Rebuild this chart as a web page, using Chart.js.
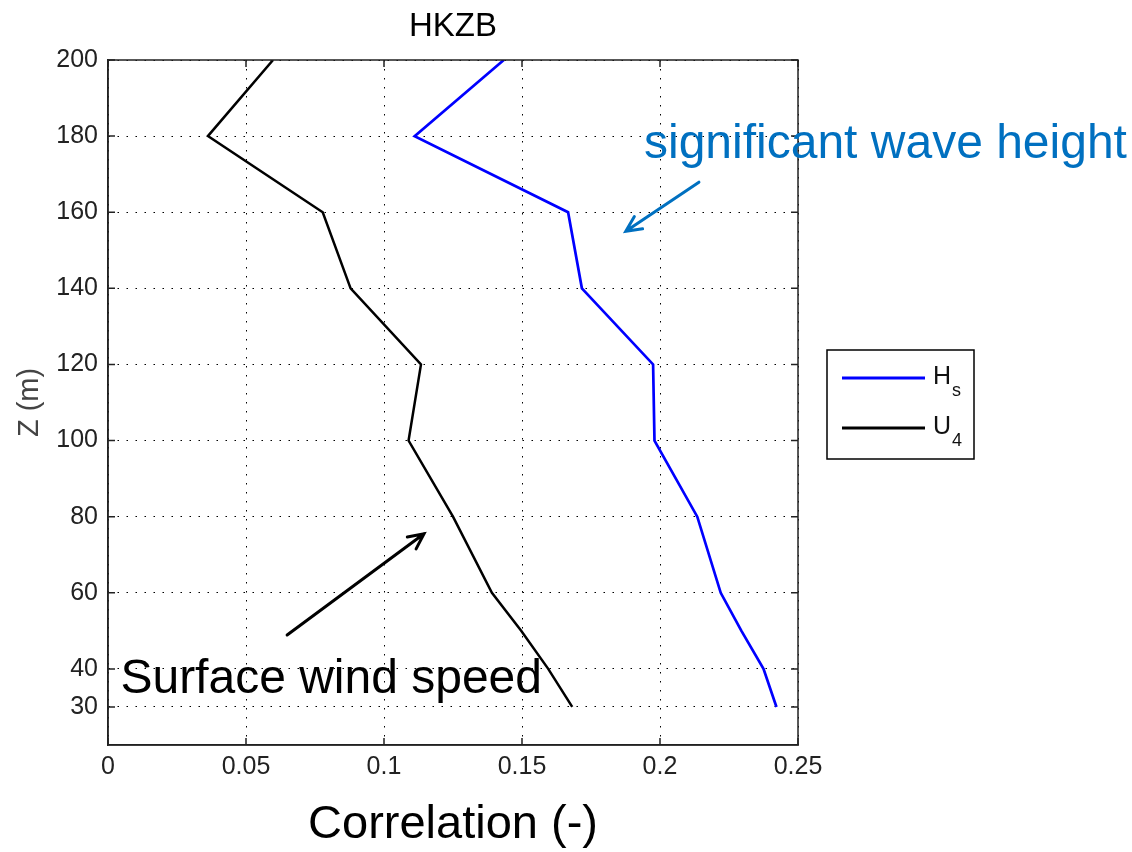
<!DOCTYPE html>
<html>
<head>
<meta charset="utf-8">
<script src="https://cdn.jsdelivr.net/npm/chart.js@4.4.0/dist/chart.umd.min.js"></script>
<style>
  html, body { margin: 0; padding: 0; background: #fff; }
  #wrap { width: 1132px; height: 852px; }
</style>
</head>
<body>
<div id="wrap"><canvas id="profileChart" width="1132" height="852"></canvas></div>
<script>
// Висоти (м) і кореляції
const heights = [200, 180, 160, 140, 120, 100, 80, 60, 50, 40, 30];
const hsCorr = [0.1434, 0.1111, 0.1667, 0.1717, 0.1975, 0.1980, 0.2135, 0.2220, 0.2295, 0.2375, 0.2422];
const u4Corr = [0.0598, 0.0362, 0.0778, 0.0879, 0.1134, 0.1089, 0.1250, 0.1391, 0.1497, 0.1595, 0.1682];

const seriesNames = ['H', 'U'];
const seriesSubs = ['s', '4'];

const xTicks = [0, 0.05, 0.1, 0.15, 0.2, 0.25];
const xTickLabels = ['0', '0.05', '0.1', '0.15', '0.2', '0.25'];
const yTicks = [30, 40, 60, 80, 100, 120, 140, 160, 180, 200];
const yTickLabels = ['30', '40', '60', '80', '100', '120', '140', '160', '180', '200'];

const chartTitle = 'HKZB';
const FONT = "'Liberation Sans', Arial, sans-serif";

// Підписи-стрілки (у координатах даних)
const notes = [
  { text: 'significant wave height', color: '#0070C0', x: 0.1942, y: 174.2,
    arrow: { x1: 0.2141, y1: 167.9, x2: 0.1876, y2: 155.0 } },
  { text: 'Surface wind speed', color: '#000000', x: 0.0045, y: 33.7,
    arrow: { x1: 0.0649, y1: 48.9, x2: 0.1145, y2: 75.5 } }
];

function drawArrow(ctx, x1, y1, x2, y2, head) {
  const ang = Math.atan2(y2 - y1, x2 - x1);
  ctx.beginPath();
  ctx.moveTo(x1, y1);
  ctx.lineTo(x2, y2);
  ctx.moveTo(x2 - head * Math.cos(ang - 0.45), y2 - head * Math.sin(ang - 0.45));
  ctx.lineTo(x2, y2);
  ctx.lineTo(x2 - head * Math.cos(ang + 0.45), y2 - head * Math.sin(ang + 0.45));
  ctx.stroke();
}

// Рамка, внутрішні засічки, заголовок, легенда і підписи
const matlabFrame = {
  id: 'matlabFrame',
  afterDraw(chart) {
    const { ctx, chartArea: a, scales: { x, y } } = chart;
    ctx.save();
    ctx.strokeStyle = '#222';
    ctx.lineWidth = 1.5;
    ctx.strokeRect(a.left, a.top, a.right - a.left, a.bottom - a.top);
    ctx.beginPath();
    x.ticks.forEach(t => {
      const px = x.getPixelForValue(t.value);
      ctx.moveTo(px, a.bottom); ctx.lineTo(px, a.bottom - 7);
      ctx.moveTo(px, a.top); ctx.lineTo(px, a.top + 7);
    });
    y.ticks.forEach(t => {
      const py = y.getPixelForValue(t.value);
      ctx.moveTo(a.left, py); ctx.lineTo(a.left + 7, py);
      ctx.moveTo(a.right, py); ctx.lineTo(a.right - 7, py);
    });
    ctx.stroke();

    // Заголовок над областю графіка
    ctx.fillStyle = '#000';
    ctx.font = `33px ${FONT}`;
    ctx.textAlign = 'center';
    ctx.textBaseline = 'alphabetic';
    ctx.fillText(chartTitle, (a.left + a.right) / 2, a.top - 24);

    // Легенда
    const lx = a.right + 29, ly = 350;
    ctx.fillStyle = '#fff';
    ctx.fillRect(lx, ly, 147, 109);
    ctx.strokeStyle = '#000';
    ctx.lineWidth = 1.5;
    ctx.strokeRect(lx, ly, 147, 109);
    chart.data.datasets.forEach((ds, i) => {
      const iy = ly + 28 + i * 50;
      ctx.strokeStyle = ds.borderColor;
      ctx.lineWidth = 3;
      ctx.beginPath();
      ctx.moveTo(lx + 15, iy);
      ctx.lineTo(lx + 98, iy);
      ctx.stroke();
      ctx.fillStyle = '#111';
      ctx.textBaseline = 'alphabetic';
      ctx.textAlign = 'left';
      ctx.font = `25px ${FONT}`;
      ctx.fillText(seriesNames[i], lx + 106, iy + 6);
      const w = ctx.measureText(seriesNames[i]).width;
      ctx.font = `18px ${FONT}`;
      ctx.fillText(seriesSubs[i], lx + 107 + w, iy + 18);
    });

    // Анотації
    notes.forEach(n => {
      ctx.fillStyle = n.color;
      ctx.strokeStyle = n.color;
      ctx.font = `48px ${FONT}`;
      ctx.textAlign = 'left';
      ctx.textBaseline = 'alphabetic';
      ctx.fillText(n.text, x.getPixelForValue(n.x), y.getPixelForValue(n.y));
      ctx.lineWidth = 3;
      ctx.lineCap = 'round';
      drawArrow(ctx,
        x.getPixelForValue(n.arrow.x1), y.getPixelForValue(n.arrow.y1),
        x.getPixelForValue(n.arrow.x2), y.getPixelForValue(n.arrow.y2), 17);
    });
    ctx.restore();
  }
};

new Chart(document.getElementById('profileChart'), {
  type: 'scatter',
  data: {
    datasets: [
      {
        label: 'Hs',
        data: heights.map((h, i) => ({ x: hsCorr[i], y: h })),
        showLine: true,
        borderColor: '#0000FF',
        borderWidth: 2.7,
        pointRadius: 0,
        tension: 0
      },
      {
        label: 'U4',
        data: heights.map((h, i) => ({ x: u4Corr[i], y: h })),
        showLine: true,
        borderColor: '#000000',
        borderWidth: 2.5,
        pointRadius: 0,
        tension: 0
      }
    ]
  },
  options: {
    responsive: false,
    animation: false,
    layout: { padding: { left: 0, top: 60, right: 334, bottom: 0 } },
    plugins: {
      legend: { display: false },
      tooltip: { enabled: false },
      title: { display: false }
    },
    scales: {
      x: {
        type: 'linear',
        min: 0,
        max: 0.25,
        afterBuildTicks: s => { s.ticks = xTicks.map(v => ({ value: v })); },
        afterFit: s => { s.height = 107; },
        ticks: {
          color: '#222',
          autoSkip: false,
          maxRotation: 0,
          padding: 7,
          font: { family: FONT, size: 25 },
          callback: (v, i) => xTickLabels[i]
        },
        grid: { color: '#000', lineWidth: 1, drawTicks: false },
        border: { display: true, color: '#222', width: 1.5, dash: [1.5, 7.5] },
        title: {
          display: true,
          text: 'Correlation (-)',
          color: '#000',
          font: { family: FONT, size: 47, lineHeight: 1 },
          padding: { top: 0, bottom: 3 }
        }
      },
      y: {
        type: 'linear',
        min: 20,
        max: 200,
        afterBuildTicks: s => { s.ticks = yTicks.map(v => ({ value: v })); },
        afterFit: s => { s.width = 108; },
        ticks: {
          color: '#222',
          autoSkip: false,
          padding: 10,
          font: { family: FONT, size: 25 },
          callback: (v, i) => yTickLabels[i]
        },
        grid: { color: '#000', lineWidth: 1, drawTicks: false },
        border: { display: true, color: '#222', width: 1.5, dash: [1.5, 7.5] },
        title: {
          display: true,
          text: 'Z (m)',
          color: '#444',
          font: { family: FONT, size: 29, lineHeight: 1.2 },
          padding: { top: 13, bottom: 0 }
        }
      }
    }
  },
  plugins: [matlabFrame]
});
</script>
</body>
</html>
